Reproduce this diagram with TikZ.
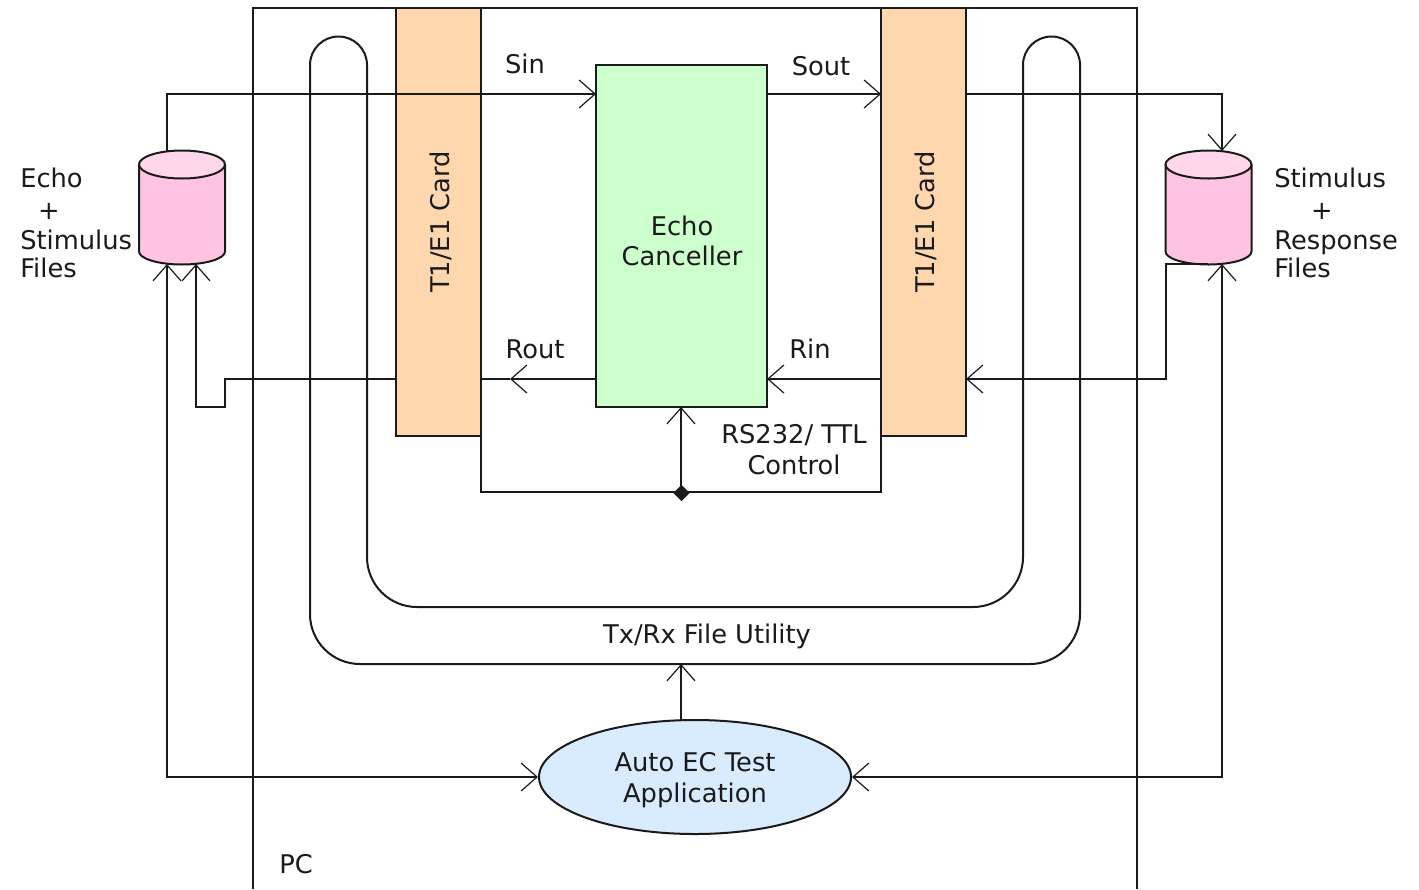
\documentclass[tikz,border=0pt]{standalone}
\usepackage{fontspec}
\setmainfont{DejaVu Sans}
\usetikzlibrary{arrows.meta,shapes.geometric}
\definecolor{cardc}{HTML}{FFD7AE}
\definecolor{ecc}{HTML}{CCFFCC}
\definecolor{cylb}{HTML}{FFC4E1}
\definecolor{cylt}{HTML}{FFD6EA}
\definecolor{appc}{HTML}{D8EBFF}
\definecolor{inkc}{HTML}{1A1A1A}
\tikzset{
  lbl/.style={font=\fontsize{19.3}{23}\selectfont,text=inkc,inner sep=0pt},
  wire/.style={line width=1.5pt,draw=inkc},
  barb/.tip={Straight Barb[length=12pt,width=21pt,line width=0.9pt]},
  arr/.style={wire,-barb},
  darr/.style={wire,barb-barb},
  card/.style={draw=inkc,line width=1.5pt,fill=cardc,minimum width=85*0.75pt,minimum height=428*0.75pt,inner sep=0pt},
  ecbox/.style={draw=inkc,line width=1.5pt,fill=ecc,minimum width=171*0.75pt,minimum height=342*0.75pt,inner sep=0pt},
  cylframe/.style={minimum width=86*0.75pt,minimum height=113*0.75pt,inner sep=0pt,outer sep=0pt},
  appnode/.style={ellipse,draw=inkc,line width=1.5pt,fill=appc,minimum width=312*0.75pt,minimum height=114*0.75pt,inner sep=0pt},
  cylbody/.style={draw=inkc,line width=1.5pt,fill=cylb},
  cyltop/.style={draw=inkc,line width=1.5pt,fill=cylt},
}
\newcommand{\drum}[2]{%
  \draw[cylbody] (#1-43,#2-43) -- (#1-43,#2+44) arc[start angle=180,delta angle=-180,x radius=43,y radius=13] -- (#1+43,#2-43);
  \draw[cyltop] (#1,#2-43) ellipse[x radius=43,y radius=14];
}
\begin{document}
\begin{tikzpicture}[x=0.75pt,y=-0.75pt]
\useasboundingbox (0,0) rectangle (1419,889);
\fill[white] (0,0) rectangle (1419,889);
% PC
\coordinate (pcbl) at (253,889);
\coordinate (pctl) at (253,8);
\coordinate (pctr) at (1137,8);
\coordinate (pcbr) at (1137,889);
\draw[wire] (pcbl) -- (pctl) -- (pctr) -- (pcbr);
% Utility loop
\draw[wire] (367,65) arc[start angle=0,end angle=-180,radius=28.5] -- (310,614)
  arc[start angle=180,delta angle=-90,radius=50] -- (1030,664)
  arc[start angle=90,delta angle=-90,radius=50] -- (1080,65)
  arc[start angle=0,end angle=-180,radius=28.5] -- (1023,557)
  arc[start angle=0,delta angle=90,radius=50] -- (417,607)
  arc[start angle=90,delta angle=90,radius=50] -- cycle;
% Cards and boxes
\node[card] (cardl) at (438.5,222) {};
\node[card] (cardr) at (923.5,222) {};
\node[lbl,rotate=90] (cardltxt) at (441,222) {T1/E1 Card};
\node[lbl,rotate=90] (cardrtxt) at (926,222) {T1/E1 Card};
\node[ecbox] (ec) at (681.5,236) {};
\node[lbl,align=center] (ectxt) at (682,241) {Echo\\Canceller};
\node[cylframe] (cyll) at (182,207.5) {};
\node[cylframe] (cylr) at (1208.5,207.5) {};
\drum{182}{207.5}
\drum{1208.5}{207.5}
\node[appnode] (app) at (695,777) {};
\node[lbl,align=center] (apptxt) at (695,780) {Auto EC Test\\Application};
% anchor coordinates
\coordinate (cla) at (167,151);
\coordinate (clb) at (167,264);
\coordinate (clc) at (196,264);
\coordinate (cra) at (1222,151);
\coordinate (crb) at (1222,264);
\coordinate (crc) at (1166,264);
\coordinate (crd) at (1208,264);
\coordinate (top) at (167,94);
\coordinate (sin) at (596,94);
\coordinate (soutS) at (767,94);
\coordinate (soutE) at (881,94);
\coordinate (tr1) at (966,94);
\coordinate (tr2) at (1222,94);
\coordinate (ls) at (396,379);
\coordinate (l1) at (225,379);
\coordinate (l2) at (225,407);
\coordinate (l3) at (196,407);
\coordinate (routS) at (596,379);
\coordinate (routT) at (510,379);
\coordinate (routE) at (481,379);
\coordinate (rinS) at (881,379);
\coordinate (rinE) at (767,379);
\coordinate (r1) at (1166,379);
\coordinate (r2) at (966,379);
\coordinate (b1) at (167,777);
\coordinate (b2) at (1222,777);
\coordinate (ctlA) at (481,436);
\coordinate (ctlB) at (481,492);
\coordinate (ctlC) at (881,492);
\coordinate (ctlD) at (881,436);
\coordinate (ctlJ) at (681,492);
\coordinate (ctlT) at (681,407);
\coordinate (appT) at (681,720);
\coordinate (utilB) at (681,664);
% connectors
\draw[wire] (cla) -- (top) -- (cardl.west |- top);
\draw[arr] (cardl.west |- top) -- (sin);
\draw[arr] (soutS) -- (soutE);
\draw[arr] (tr1) -- (tr2) -- (cra);
\draw[darr] (clb) -- (b1) -- (app.west);
\draw[darr] (crb) -- (b2) -- (app.east);
\draw[arr] (ls) -- (l1) -- (l2) -- (l3) -- (clc);
\draw[arr] (routS) -- (routT);
\draw[wire] (routT) -- (routE);
\draw[arr] (rinS) -- (rinE);
\draw[arr] (crd) -- (crc) -- (r1) -- (r2);
\draw[wire] (ctlA) -- (ctlB) -- (ctlC) -- (ctlD);
\draw[arr] (ctlJ) -- (ctlT);
\node[diamond,fill=inkc,minimum size=12.5pt,inner sep=0pt] (dot) at (681.5,493) {};
\draw[arr] (appT) -- (utilB);
% labels
\node[lbl,anchor=base] (sinl) at (525,73) {Sin};
\node[lbl,anchor=base] (soutl) at (821,75) {Sout};
\node[lbl,anchor=base] (routl) at (535,358) {Rout};
\node[lbl,anchor=base] (rinl) at (810,358) {Rin};
\node[lbl,anchor=base] (rsl1) at (794,443) {RS232/ TTL};
\node[lbl,anchor=base] (rsl2) at (794,474) {Control};
\node[lbl,anchor=base] (txl) at (707,643) {Tx/Rx File Utility};
\node[lbl,anchor=base] (pcl) at (296,873) {PC};
\node[lbl,anchor=base west] (e1) at (20,187) {Echo};
\node[lbl,anchor=base] (e2) at (49,219) {+};
\node[lbl,anchor=base west] (e3) at (20,249.5) {Stimulus};
\node[lbl,anchor=base west] (e4) at (20,277.5) {Files};
\node[lbl,anchor=base west] (s1) at (1274,187) {Stimulus};
\node[lbl,anchor=base] (s2) at (1322,219) {+};
\node[lbl,anchor=base west] (s3) at (1274,249.5) {Response};
\node[lbl,anchor=base west] (s4) at (1274,277.5) {Files};
\end{tikzpicture}
\end{document}
